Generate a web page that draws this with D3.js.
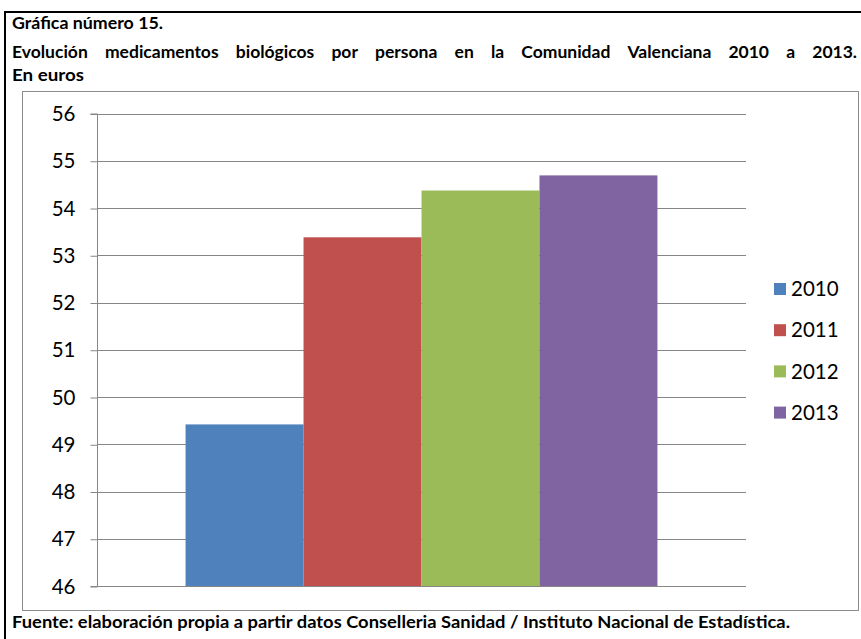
<!DOCTYPE html>
<html>
<head>
<meta charset="utf-8">
<script src="https://cdn.jsdelivr.net/npm/d3@7"></script>
<style>
  html, body { margin: 0; padding: 0; background: #fff; }
  svg { display: block; }
  text { font-family: Lato, "Open Sans", "Liberation Sans", sans-serif; }
</style>
</head>
<body>
<svg id="chart" width="861" height="639"></svg>
<script>
// Gasto en medicamentos biológicos por persona (euros), Comunidad Valenciana
const categories = ["Comunidad Valenciana"];
const years = ["2010", "2011", "2012", "2013"];
const values = [49.42, 53.38, 54.37, 54.69];
const colors = ["#4f81bd", "#c0504d", "#9bbb59", "#8064a2"];
const yTicks = [46, 47, 48, 49, 50, 51, 52, 53, 54, 55, 56];

const titleLine1 = "Gráfica número 15.";
const titleLine2 = "Evolución medicamentos biológicos por persona en la Comunidad Valenciana 2010 a 2013.";
const titleLine3 = "En euros";
const footer = "Fuente: elaboración propia a partir datos Conselleria Sanidad / Instituto Nacional de Estadística.";

const svg = d3.select("#chart");

// page frame
svg.append("path")
  .attr("d", "M5,640 L5,12 L862,12")
  .attr("fill", "none").attr("stroke", "#000").attr("stroke-width", 2);

// heading
const head = svg.append("g").attr("font-weight", "bold").attr("font-size", 17.5).attr("fill", "#000");
head.append("text").attr("x", 12).attr("y", 29).attr("textLength", 151)
  .attr("lengthAdjust", "spacingAndGlyphs").text(titleLine1);
head.append("text").attr("x", 12).attr("y", 81).attr("textLength", 72)
  .attr("lengthAdjust", "spacingAndGlyphs").text(titleLine3);

// justified second heading line
(function justify(text, x0, x1, y) {
  const words = text.split(" ");
  const g = head.append("g");
  const nodes = words.map(w => g.append("text").attr("y", y).text(w));
  const widths = nodes.map(n => n.node().getComputedTextLength());
  const total = d3.sum(widths);
  const gap = (x1 - x0 - total) / (words.length - 1);
  let x = x0;
  nodes.forEach((n, i) => { n.attr("x", x); x += widths[i] + gap; });
})(titleLine2, 12, 857, 58);

// footer
svg.append("text").attr("x", 12).attr("y", 628)
  .attr("font-weight", "bold").attr("font-size", 17.5).attr("fill", "#000")
  .attr("textLength", 778).attr("lengthAdjust", "spacingAndGlyphs")
  .text(footer);

// chart box
svg.append("rect")
  .attr("x", 22.5).attr("y", 91.5).attr("width", 836).attr("height", 519)
  .attr("fill", "#fff").attr("stroke", "#8c8c8c").attr("stroke-width", 1);

const plot = { left: 97, right: 746, top: 113.5, bottom: 586 };

const y = d3.scaleLinear().domain([46, 56]).range([plot.bottom, plot.top]);
const x0 = d3.scaleBand().domain(categories).range([plot.left, plot.right])
  .paddingInner(0.158).paddingOuter(0.158);
const x1 = d3.scaleBand().domain(years).range([0, x0.bandwidth()]).padding(0);

// gridlines
svg.append("g").selectAll("line").data(yTicks).join("line")
  .attr("x1", plot.left).attr("x2", plot.right)
  .attr("y1", d => Math.round(y(d)) + 0.5).attr("y2", d => Math.round(y(d)) + 0.5)
  .attr("stroke", "#868686").attr("stroke-width", 1);

// bars
const grp = svg.append("g").attr("transform", `translate(${x0(categories[0])},0)`);
grp.selectAll("rect").data(years).join("rect")
  .attr("x", d => x1(d))
  .attr("width", x1.bandwidth())
  .attr("y", (d, i) => y(values[i]))
  .attr("height", (d, i) => y(46) - y(values[i]))
  .attr("fill", (d, i) => colors[i]);

// y axis
const axis = d3.axisLeft(y).tickValues(yTicks).tickSize(7).tickPadding(15).tickFormat(d3.format("d"));
const ag = svg.append("g").attr("transform", `translate(${plot.left + 0.5},0.5)`).call(axis);
ag.select(".domain").attr("stroke", "#868686").attr("d", `M-7,${y(56)}H0V${y(46)}H-7`);
ag.selectAll(".tick line").attr("stroke", "#868686");
ag.selectAll(".tick text").attr("font-size", 20.5).attr("fill", "#000")
  .attr("font-family", "Lato, 'Open Sans', sans-serif");

// legend
const legend = svg.append("g").attr("transform", "translate(774,289)");
const li = legend.selectAll("g").data(years).join("g")
  .attr("transform", (d, i) => `translate(0,${i * 41.2})`);
li.append("rect").attr("x", 0).attr("y", -6).attr("width", 12).attr("height", 12)
  .attr("fill", (d, i) => colors[i]);
li.append("text").attr("x", 17).attr("y", 0).attr("dy", "0.35em")
  .attr("font-size", 20.5).attr("fill", "#000").text(d => d);
</script>
</body>
</html>
